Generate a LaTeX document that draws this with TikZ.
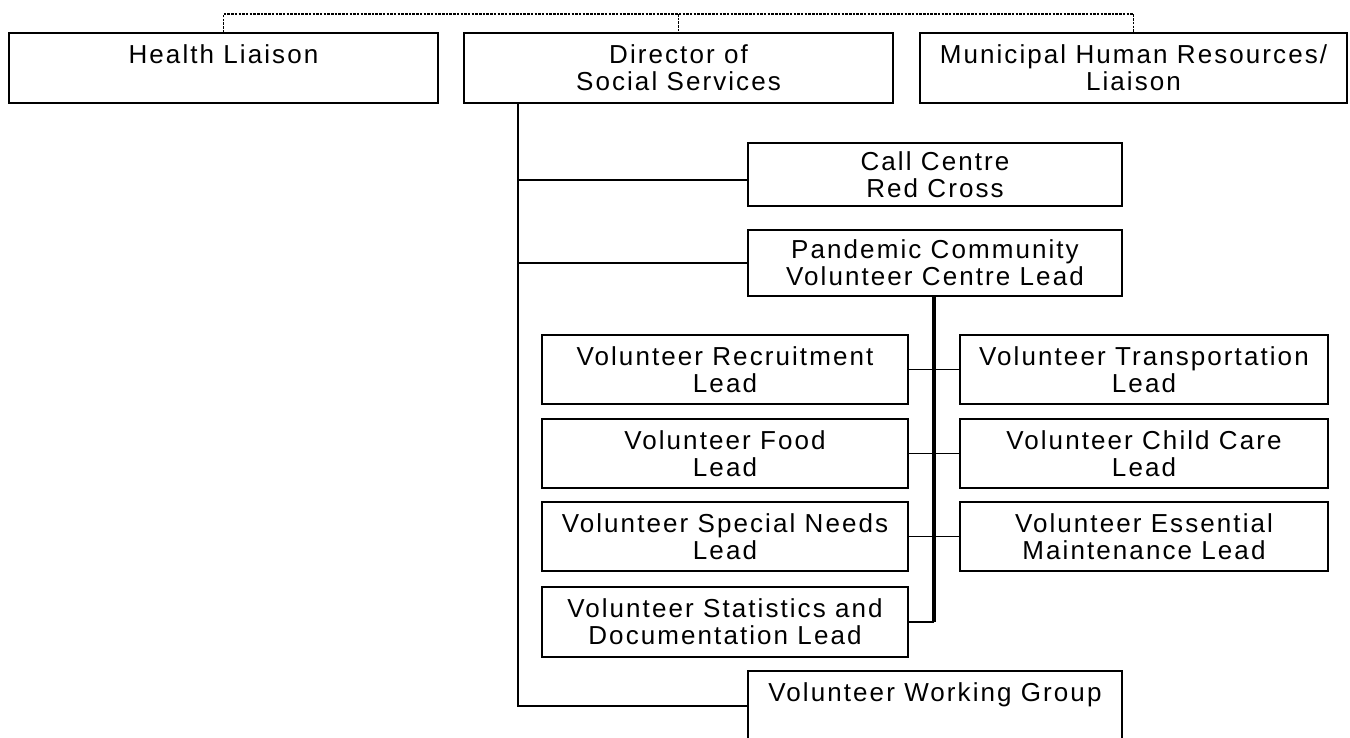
\documentclass[tikz,border=0pt]{standalone}
\usepackage{fontspec}
\setmainfont{Liberation Sans}[LetterSpace=8]
\begin{document}
\begin{tikzpicture}[x=1pt,y=-1pt,
  box/.style={draw=black, line width=1.5pt, rectangle, inner sep=0pt, align=center,
    font=\fontsize{26}{27}\selectfont, text=black},
  conn/.style={draw=black, line width=1.5pt},
  thickconn/.style={draw=black, line width=3.2pt},
  dotline/.style={draw=black, line width=1.6pt, dash pattern=on 2.5pt off 1.2pt}]
\useasboundingbox (0,0) rectangle (1350,737);
\clip (0,0) rectangle (1350,737);
% top row
\node[box, minimum width=429, minimum height=70] (hl) at (223.5,68) {Health Liaison\\\mbox{}};
\node[box, minimum width=429, minimum height=70] (dir) at (678.5,68) {Director of\\Social Services};
\node[box, minimum width=427, minimum height=70] (mhr) at (1133.5,68) {Municipal Human Resources/\\Liaison};
% second level
\node[box, minimum width=374, minimum height=63] (cc) at (935,174.5) {Call Centre\\Red Cross};
\node[box, minimum width=374, minimum height=66] (pcv) at (935,263) {Pandemic Community\\Volunteer Centre Lead};
% left column
\node[box, minimum width=366, minimum height=69] (rec) at (725,369.5) {Volunteer Recruitment\\Lead};
\node[box, minimum width=366, minimum height=69] (food) at (725,453.5) {Volunteer Food\\Lead};
\node[box, minimum width=366, minimum height=69] (spn) at (725,536.5) {Volunteer Special Needs\\Lead};
\node[box, minimum width=366, minimum height=70] (stat) at (725,622) {Volunteer Statistics and\\Documentation Lead};
% right column
\node[box, minimum width=368, minimum height=69] (tra) at (1144,369.5) {Volunteer Transportation\\Lead};
\node[box, minimum width=368, minimum height=69] (chc) at (1144,453.5) {Volunteer Child Care\\Lead};
\node[box, minimum width=368, minimum height=69] (ess) at (1144,536.5) {Volunteer Essential\\Maintenance Lead};
% working group
\node[box, minimum width=374, minimum height=70] (vwg) at (935,706) {Volunteer Working Group\\\mbox{}};
% dotted top connector
\coordinate (dt) at (678.5,14);
\draw[dotline] (hl.north) |- (dt) -| (mhr.north);
\draw[dotline] (dt) -- (dir.north);
% director trunk
\coordinate (trunk) at (518,103);
\coordinate (tend) at (518,706);
\draw[conn] (trunk) -- (tend) -- (vwg.west);
\draw[conn] (518,180) -- (cc.west |- 0,180);
\draw[conn] (518,263) -- (pcv.west);
% pandemic trunk
\coordinate (pend) at (934,622);
\draw[thickconn] (pcv.south -| 934,0) -- (pend);
\draw[conn] (pend) -- (stat.east);
\draw[conn] (rec.east) -- (tra.west);
\draw[conn] (food.east) -- (chc.west);
\draw[conn] (spn.east) -- (ess.west);
\end{tikzpicture}
\end{document}
